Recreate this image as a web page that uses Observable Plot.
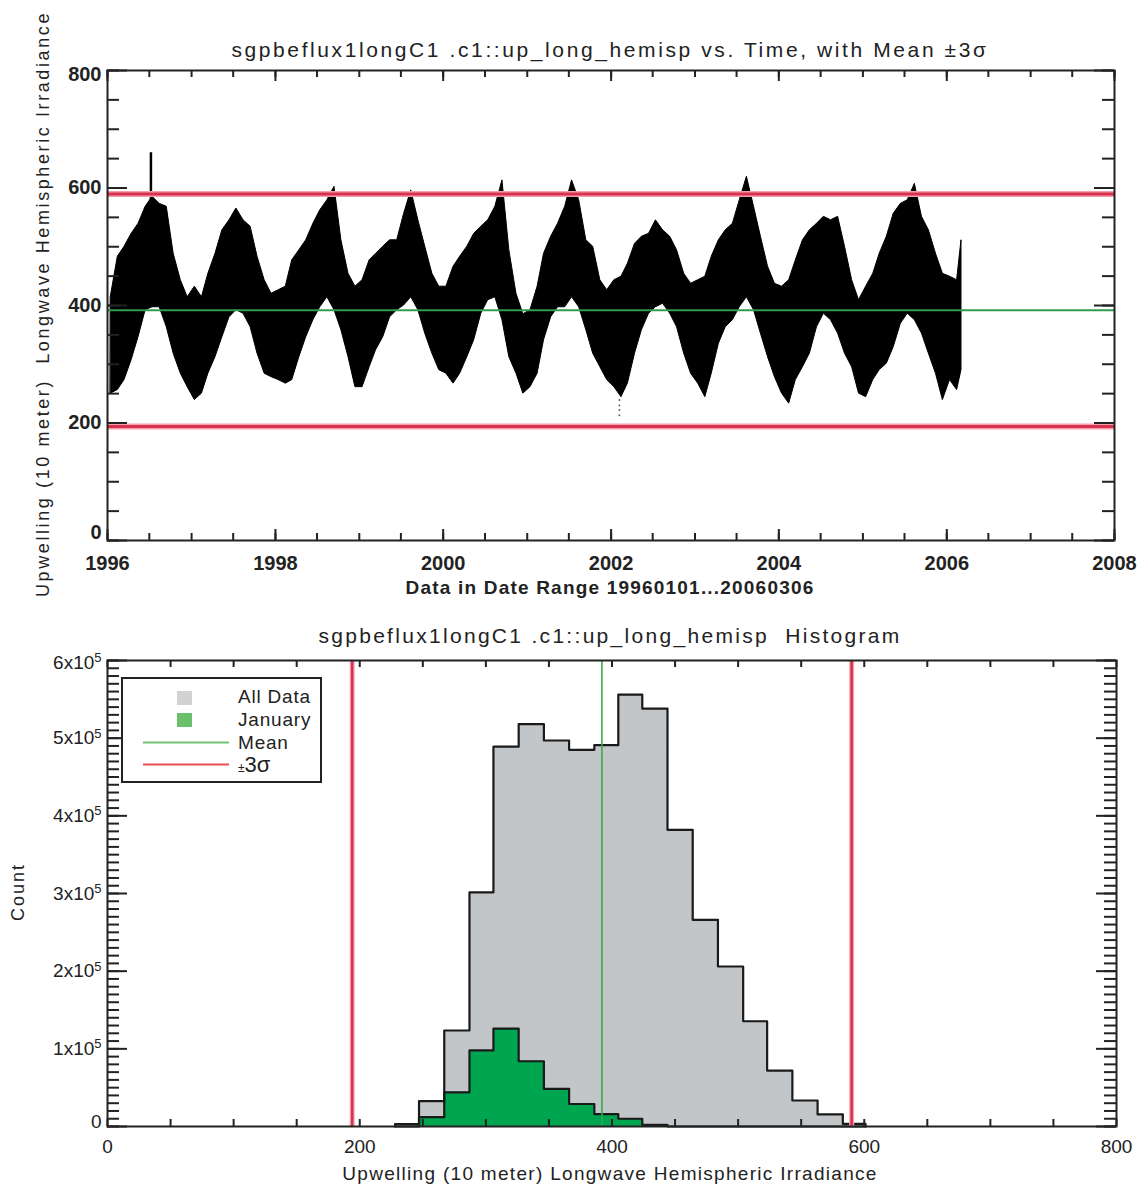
<!DOCTYPE html>
<html><head><meta charset="utf-8">
<script src="https://cdn.jsdelivr.net/npm/d3@7"></script>
<script src="https://cdn.jsdelivr.net/npm/@observablehq/plot@0.6"></script>
<style>
body{margin:0;background:#fff;}
svg{display:block;}
</style>
</head><body>
<div id="top"></div><div id="bot"></div>
<script>
// ---------------- DATA ----------------
// Monthly envelope (upper / lower) of the upwelling LW series
const hi1996_1999 = [
  414, 483, 500, 522, 539, 568, 585, 573, 568, 488, 443, 414,
  432, 414, 454, 488, 528, 545, 565, 545, 534, 483, 443, 420,
  426, 432, 477, 494, 511, 539, 562, 579, 602, 511, 454, 432,
  443, 477, 488, 500, 511, 511, 556, 596, 545, 500, 454, 432];
const lo1996_1999 = [
  250, 256, 273, 307, 346, 392, 397, 397, 363, 318, 284, 261,
  239, 250, 284, 312, 346, 380, 392, 386, 363, 318, 284, 278,
  273, 267, 273, 312, 346, 375, 397, 414, 392, 358, 312, 261,
  261, 295, 324, 346, 380, 392, 400, 414, 392, 352, 318, 290];
const hi2000_2003 = [
  432, 466, 483, 500, 522, 534, 545, 568, 613, 494, 420, 385,
  392, 432, 488, 517, 539, 568, 613, 579, 511, 500, 443, 426,
  443, 449, 471, 505, 517, 522, 545, 528, 517, 494, 454, 437,
  443, 449, 483, 511, 528, 539, 579, 619, 568, 517, 466, 437];
const lo2000_2003 = [
  284, 267, 284, 312, 341, 386, 409, 414, 375, 312, 284, 250,
  261, 284, 341, 380, 397, 397, 414, 397, 358, 318, 295, 273,
  261, 244, 267, 318, 358, 386, 397, 403, 386, 363, 318, 284,
  267, 244, 284, 335, 363, 375, 397, 414, 392, 352, 312, 278];
const hi2004_2006 = [
  432, 443, 477, 511, 528, 539, 551, 545, 551, 500, 443, 409,
  432, 454, 488, 517, 556, 573, 579, 607, 551, 528, 488, 454,
  449, 443, 511];
const lo2004_2006 = [
  250, 233, 273, 295, 318, 363, 386, 375, 352, 318, 295, 250,
  244, 273, 290, 301, 329, 369, 386, 375, 352, 318, 284, 239,
  273, 256, 290];
const seriesStart = "1996-01-15";
const seriesEnd = "2006-03-06";

// isolated spike and stray low points
const spikeDates = ["1996-07-08"];
const spikeLo = [560];
const spikeHi = [660];
const strayDate = "2002-02-06";
const strayValues = [239, 230, 222, 213];

// statistics
const meanValue = 392;
const minus3Sigma = 194;
const plus3Sigma = 590;

// histogram (bin edges, counts)
const binEdges = [228, 247, 267, 287, 306, 326, 346, 366, 386, 405, 424, 444, 464, 484, 504, 523, 543, 563, 583, 601];
const allCounts = [3000, 32600, 123600, 301500, 489000, 518000, 497000, 485000, 491000, 556000, 538000, 382000, 266000, 206000, 135500, 72000, 33500, 15500, 3500];
const janCounts = [0, 12000, 44000, 98000, 126000, 84000, 48500, 29000, 16000, 10000, 2000, 0, 0, 0, 0, 0, 0, 0, 0];

// ticks / labels
const topYTicks = [0, 200, 400, 600, 800];
const topXYears = [1996, 1998, 2000, 2002, 2004, 2006, 2008];
const histXTicks = [0, 200, 400, 600, 800];
const histYTicks = [0, 100000, 200000, 300000, 400000, 500000, 600000];

const topTitle = "sgpbeflux1longC1 .c1::up_long_hemisp vs. Time, with Mean \u00b13\u03c3";
const topYLabel = "Upwelling (10 meter)  Longwave Hemispheric Irradiance";
const topXLabel = "Data in Date Range 19960101...20060306";
const histTitle = "sgpbeflux1longC1 .c1::up_long_hemisp  Histogram";
const histXLabel = "Upwelling (10 meter) Longwave Hemispheric Irradiance";
const histYLabel = "Count";
const legendLabels = ["All Data", "January", "Mean", "\u00b13\u03c3"];

// ---------------- BUILD ----------------
const FONT = "'Liberation Sans', Arial, Helvetica, sans-serif";
const hiAll = [...hi1996_1999, ...hi2000_2003, ...hi2004_2006];
const loAll = [...lo1996_1999, ...lo2000_2003, ...lo2004_2006];
const start = new Date(seriesStart + "T00:00Z");
const series = hiAll.map((h, i) => ({
  date: i === hiAll.length - 1 ? new Date(seriesEnd + "T00:00Z") : d3.utcMonth.offset(start, i),
  hi: h, lo: loAll[i]
}));
const spikes = spikeDates.map((d, i) => ({date: new Date(d + "T00:00Z"), lo: spikeLo[i], hi: spikeHi[i]}));
const strays = strayValues.map(v => ({date: new Date(strayDate + "T00:00Z"), v}));

const W = 1145;
const T = {h: 605, ml: 107, mr: 31, mt: 70, mb: 65};
const tfw = W - T.ml - T.mr, tfh = T.h - T.mt - T.mb;
const xStart = new Date("1996-01-01T00:00Z"), xEnd = new Date("2008-01-01T00:00Z");
const xMajor = topXYears.map(y => new Date(Date.UTC(y, 0, 1)));
const xMinor = d3.utcMonth.every(6).range(xStart, d3.utcDay.offset(xEnd, 1));
const yMinorTop = d3.range(0, 801, 50);
const tickCol = "#222";
const yLab = {tickSize: 0, tickPadding: 6, label: null, fontSize: 20, fontWeight: "bold"};

const topPlot = Plot.plot({
  width: W, height: T.h,
  marginLeft: T.ml, marginRight: T.mr, marginTop: T.mt, marginBottom: T.mb,
  x: {type: "utc", domain: [xStart, xEnd]},
  y: {domain: [0, 800]},
  style: {fontFamily: FONT, background: "white", color: "#222"},
  marks: [
    Plot.areaY(series, {x: "date", y1: "lo", y2: "hi", fill: "#000", stroke: "#000", strokeWidth: 1}),
    Plot.ruleX(spikes, {x: "date", y1: "lo", y2: "hi", stroke: "#000", strokeWidth: 2.5}),
    Plot.dot(strays, {x: "date", y: "v", r: 1, fill: "#666"}),
    Plot.ruleY([plus3Sigma, minus3Sigma], {stroke: "#f2a0ad", strokeWidth: 6}),
    Plot.ruleY([plus3Sigma, minus3Sigma], {stroke: "#d9304c", strokeWidth: 3}),
    Plot.ruleY([meanValue], {stroke: "#2f9e4a", strokeWidth: 2}),
    Plot.tickY(yMinorTop, {y: d => d, insetRight: tfw - 12, stroke: tickCol, strokeWidth: 2}),
    Plot.tickY(topYTicks, {y: d => d, insetRight: tfw - 20, stroke: tickCol, strokeWidth: 2}),
    Plot.tickY(yMinorTop, {y: d => d, insetLeft: tfw - 12, stroke: tickCol, strokeWidth: 2}),
    Plot.tickY(topYTicks, {y: d => d, insetLeft: tfw - 20, stroke: tickCol, strokeWidth: 2}),
    Plot.tickX(xMinor, {x: d => d, insetTop: tfh - 7, stroke: tickCol, strokeWidth: 2}),
    Plot.tickX(xMajor, {x: d => d, insetTop: tfh - 11, stroke: tickCol, strokeWidth: 2}),
    Plot.tickX(xMinor, {x: d => d, insetBottom: tfh - 7, stroke: tickCol, strokeWidth: 2}),
    Plot.tickX(xMajor, {x: d => d, insetBottom: tfh - 11, stroke: tickCol, strokeWidth: 2}),
    Plot.frame({stroke: tickCol, strokeWidth: 2}),
    Plot.axisX({ticks: xMajor, tickSize: 0, tickPadding: 15, tickFormat: d3.utcFormat("%Y"), label: null, fontSize: 20, fontWeight: "bold"}),
    Plot.axisY({...yLab, ticks: topYTicks.slice(1, -1)}),
    Plot.axisY({...yLab, ticks: topYTicks.slice(0, 1), dy: -8}),
    Plot.axisY({...yLab, ticks: topYTicks.slice(-1), dy: 4})
  ]
});

const ts = d3.select(topPlot);
ts.append("text").attr("x", 610).attr("y", 57).attr("text-anchor", "middle")
  .attr("font-family", FONT).attr("font-size", 21).attr("letter-spacing", 2.6).attr("fill", "#222").text(topTitle);
ts.append("text").attr("transform", "translate(49,304) rotate(-90)").attr("text-anchor", "middle")
  .attr("font-family", FONT).attr("font-size", 18).attr("letter-spacing", 2.6).attr("fill", "#222")
  .style("white-space", "pre").text(topYLabel);
ts.append("text").attr("x", 610).attr("y", 594).attr("text-anchor", "middle")
  .attr("font-family", FONT).attr("font-size", 19).attr("font-weight", "bold").attr("letter-spacing", 1.2).attr("fill", "#222").text(topXLabel);
document.getElementById("top").appendChild(topPlot);

// bottom chart
const B = {h: 581, ml: 107, mr: 29, mt: 55, mb: 60};
const bfw = W - B.ml - B.mr, bfh = B.h - B.mt - B.mb;
function steps(edges, counts) {
  const n = counts.length;
  return [{x: edges[0], y: 0}, ...counts.map((c, i) => ({x: edges[i], y: c})), {x: edges[n], y: counts[n - 1]}, {x: edges[n], y: 0}];
}
const allSteps = steps(binEdges, allCounts);
const janSteps = steps(binEdges, janCounts);
const hxMinor = d3.range(0, 801, 50);
const hyMinor = d3.range(0, 600001, 10000);
const hyLab = {tickSize: 0, tickPadding: 6, label: null, fontSize: 19,
  tickFormat: d => d === 0 ? "0" : `${d / 1e5}x10^5`};

const botPlot = Plot.plot({
  width: W, height: B.h,
  marginLeft: B.ml, marginRight: B.mr, marginTop: B.mt, marginBottom: B.mb,
  x: {domain: [0, 800]},
  y: {domain: [0, 600000]},
  style: {fontFamily: FONT, background: "white", color: "#222"},
  marks: [
    Plot.areaY(allSteps, {x: "x", y: "y", curve: "step-after", fill: "#c3c6c8"}),
    Plot.areaY(janSteps, {x: "x", y: "y", curve: "step-after", fill: "#00a54f"}),
    Plot.line(allSteps, {x: "x", y: "y", curve: "step-after", stroke: "#1a1a1a", strokeWidth: 2.2}),
    Plot.line(janSteps, {x: "x", y: "y", curve: "step-after", stroke: "#1a1a1a", strokeWidth: 2.2}),
    Plot.ruleX([minus3Sigma, plus3Sigma], {stroke: "#f2a8b3", strokeWidth: 5}),
    Plot.ruleX([minus3Sigma, plus3Sigma], {stroke: "#d9304c", strokeWidth: 2.5}),
    Plot.ruleX([meanValue], {stroke: "#35a94a", strokeWidth: 1.6}),
    Plot.tickY(hyMinor, {y: d => d, insetRight: bfw - 12, stroke: tickCol, strokeWidth: 2}),
    Plot.tickY(histYTicks, {y: d => d, insetRight: bfw - 20, stroke: tickCol, strokeWidth: 2}),
    Plot.tickY(hyMinor, {y: d => d, insetLeft: bfw - 12, stroke: tickCol, strokeWidth: 2}),
    Plot.tickY(histYTicks, {y: d => d, insetLeft: bfw - 20, stroke: tickCol, strokeWidth: 2}),
    Plot.tickX(hxMinor, {x: d => d, insetTop: bfh - 7, stroke: tickCol, strokeWidth: 2}),
    Plot.tickX(hxMinor, {x: d => d, insetBottom: bfh - 7, stroke: tickCol, strokeWidth: 2}),
    Plot.frame({stroke: tickCol, strokeWidth: 2}),
    Plot.axisX({ticks: histXTicks, tickSize: 0, tickPadding: 13, label: null, fontSize: 19, tickFormat: d => String(d)}),
    Plot.axisY({...hyLab, ticks: histYTicks.slice(1, -1)}),
    Plot.axisY({...hyLab, ticks: histYTicks.slice(0, 1), dy: -5}),
    Plot.axisY({...hyLab, ticks: histYTicks.slice(-1), dy: 2})
  ]
});

const bs = d3.select(botPlot);
bs.selectAll('g[aria-label="y-axis tick label"] text').each(function () {
  const t = this.textContent;
  if (t.includes("^")) {
    const [a, b] = t.split("^");
    this.textContent = a;
    d3.select(this).append("tspan").attr("dy", "-0.5em").attr("font-size", 13).text(b);
  }
});
bs.append("text").attr("x", 610).attr("y", 38).attr("text-anchor", "middle")
  .attr("font-family", FONT).attr("font-size", 21).attr("letter-spacing", 2.3).attr("fill", "#222")
  .style("white-space", "pre").text(histTitle);
bs.append("text").attr("x", 610).attr("y", 575).attr("text-anchor", "middle")
  .attr("font-family", FONT).attr("font-size", 19).attr("letter-spacing", 1.3).attr("fill", "#222").text(histXLabel);
bs.append("text").attr("transform", "translate(24,287) rotate(-90)").attr("text-anchor", "middle")
  .attr("font-family", FONT).attr("font-size", 18).attr("letter-spacing", 2).attr("fill", "#222").text(histYLabel);

// legend (pixel layout in bottom svg; page y = svg y + 605)
const lg = bs.append("g").attr("font-family", FONT).attr("font-size", 19).attr("fill", "#222").attr("text-anchor", "start");
lg.append("rect").attr("x", 122).attr("y", 73).attr("width", 199).attr("height", 104)
  .attr("fill", "white").attr("stroke", "#222").attr("stroke-width", 2);
lg.append("rect").attr("x", 177).attr("y", 86).attr("width", 15).attr("height", 14).attr("fill", "#d2d2d2");
lg.append("rect").attr("x", 177).attr("y", 108).attr("width", 15).attr("height", 14).attr("fill", "#6abf6a");
lg.append("line").attr("x1", 143).attr("x2", 229).attr("y1", 137.5).attr("y2", 137.5).attr("stroke", "#72c472").attr("stroke-width", 2);
lg.append("line").attr("x1", 143).attr("x2", 229).attr("y1", 159.5).attr("y2", 159.5).attr("stroke", "#ea4d57").attr("stroke-width", 2);
[0, 1, 2].forEach(i => {
  lg.append("text").attr("x", 238).attr("y", 91 + i * 23).attr("dy", "0.35em").attr("text-anchor", "start")
    .attr("letter-spacing", 0.8).text(legendLabels[i]);
});
const sig = lg.append("text").attr("x", 238).attr("y", 160).attr("dy", "0.35em").attr("text-anchor", "start");
sig.append("tspan").attr("font-size", 12).text(legendLabels[3].slice(0, 1));
sig.append("tspan").attr("font-size", 22).text(legendLabels[3].slice(1));

document.getElementById("bot").appendChild(botPlot);
</script>
</body></html>
